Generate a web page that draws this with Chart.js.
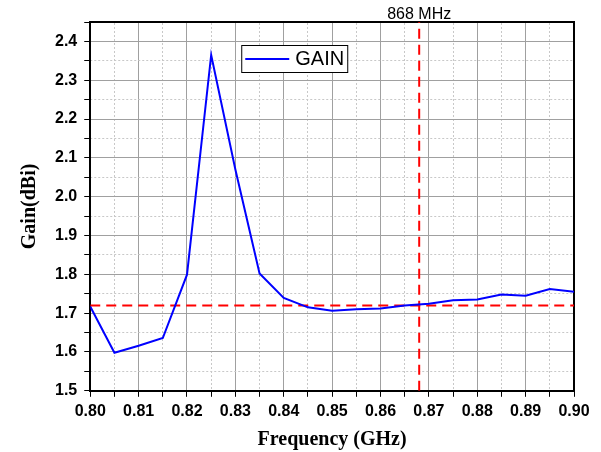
<!DOCTYPE html>
<html>
<head>
<meta charset="utf-8">
<script src="https://cdn.jsdelivr.net/npm/chart.js@4.4.0/dist/chart.umd.min.js"></script>
<style>
  html, body { margin: 0; padding: 0; background: #fff; }
  #wrap { width: 601px; height: 452px; position: relative; }
</style>
</head>
<body>
<div id="wrap"><canvas id="gainChart"></canvas></div>
<script>
// frequency (GHz) and gain (dBi)
var freq = [0.800, 0.805, 0.810, 0.815, 0.820, 0.825, 0.830, 0.835, 0.840, 0.845, 0.850,
            0.855, 0.860, 0.865, 0.870, 0.875, 0.880, 0.885, 0.890, 0.895, 0.900]
var gain = [1.717, 1.598, 1.616, 1.636, 1.799, 2.365, 2.070, 1.802, 1.739, 1.715, 1.706,
            1.710, 1.712, 1.720, 1.724, 1.733, 1.735, 1.748, 1.745, 1.762, 1.755]
var refGain = 1.72      // horizontal dashed line
var markFreq = 0.868    // vertical dashed line
var markLabel = '868 MHz'
var seriesName = 'GAIN'

var xMin = 0.80, xMax = 0.90, xStep = 0.005
var yMin = 1.5, yMax = 2.45, yStep = 0.05

function isMajor(v, mult){
  return Math.abs(v * mult - Math.round(v * mult)) < 1e-6
}

var overlay = {
  id: 'overlay',
  afterDraw: function(chart){
    var ctx = chart.ctx
    var area = chart.chartArea
    var xs = chart.scales.x
    // 868 MHz label
    ctx.save()
    ctx.font = '16px "Liberation Sans", Arial, sans-serif'
    ctx.fillStyle = '#000'
    ctx.textAlign = 'center'
    ctx.textBaseline = 'alphabetic'
    ctx.fillText(markLabel, xs.getPixelForValue(markFreq), area.top - 3)
    // legend box
    var lx = area.left + 151, ly = area.top + 23, lw = 106, lh = 27
    ctx.fillStyle = '#fff'
    ctx.fillRect(lx, ly, lw, lh)
    ctx.strokeStyle = '#000'
    ctx.lineWidth = 1
    ctx.strokeRect(lx + 0.5, ly + 0.5, lw, lh)
    ctx.strokeStyle = '#0000ff'
    ctx.lineWidth = 2
    ctx.beginPath()
    ctx.moveTo(lx + 4, ly + 14)
    ctx.lineTo(lx + 48, ly + 14)
    ctx.stroke()
    ctx.fillStyle = '#000'
    ctx.font = '20px "Liberation Sans", Arial, sans-serif'
    ctx.textAlign = 'left'
    ctx.textBaseline = 'middle'
    ctx.fillText(seriesName, lx + 54, ly + 14)
    ctx.restore()
  }
}

var ctx = document.getElementById('gainChart').getContext('2d')
var myChart = new Chart(ctx, {
  type: 'line',
  plugins: [overlay],
  data: {
    datasets: [{
      label: seriesName,
      data: freq.map(function(f, i){ return {x: f, y: gain[i]} }),
      borderColor: '#0000ff',
      borderWidth: 2,
      pointRadius: 0,
      tension: 0,
      order: 0
    }, {
      label: 'ref',
      data: [{x: xMin, y: refGain}, {x: xMax, y: refGain}],
      borderColor: '#ff0000',
      borderWidth: 2,
      borderDash: [10, 6],
      pointRadius: 0,
      order: 1
    }, {
      label: 'mark',
      data: [{x: markFreq, y: yMin}, {x: markFreq, y: yMax}],
      borderColor: '#ff0000',
      borderWidth: 2,
      borderDash: [10, 6],
      pointRadius: 0,
      order: 1
    }]
  },
  options: {
    responsive: true,
    maintainAspectRatio: false,
    animation: false,
    layout: { padding: { top: 22, right: 27, left: 18, bottom: 0 } },
    plugins: {
      legend: { display: false },
      tooltip: { enabled: false }
    },
    scales: {
      x: {
        type: 'linear',
        position: 'bottom',
        min: xMin, max: xMax,
        ticks: {
          stepSize: xStep,
          autoSkip: false,
          maxRotation: 0,
          padding: 5,
          color: '#000',
          font: { family: '"Liberation Sans", Arial, sans-serif', size: 16, weight: 'bold' },
          callback: function(v){ return isMajor(v, 100) ? v.toFixed(2) : '' }
        },
        grid: {
          color: function(c){ return c.tick && isMajor(c.tick.value, 100) ? '#a0a0a0' : 'rgba(0,0,0,0)' },
          tickColor: '#000',
          tickLength: 6,
          lineWidth: 1
        },
        border: { color: '#000', width: 2 },
        title: {
          display: true,
          text: 'Frequency (GHz)',
          color: '#000',
          padding: { top: 2, bottom: 0 },
          font: { family: '"Liberation Serif", "Times New Roman", serif', size: 20, weight: 'bold' }
        }
      },
      x2: {
        type: 'linear',
        position: 'top',
        min: xMin, max: xMax,
        ticks: { display: false, stepSize: xStep },
        grid: {
          drawTicks: false,
          color: function(c){ return c.tick && !isMajor(c.tick.value, 100) ? '#c8c8c8' : 'rgba(0,0,0,0)' },
          lineWidth: 1
        },
        border: { color: '#000', width: 2, dash: [2, 2] }
      },
      y: {
        type: 'linear',
        position: 'left',
        min: yMin, max: yMax,
        ticks: {
          stepSize: yStep,
          autoSkip: false,
          padding: 7,
          color: '#000',
          font: { family: '"Liberation Sans", Arial, sans-serif', size: 16, weight: 'bold' },
          callback: function(v){ return isMajor(v, 10) ? v.toFixed(1) : '' }
        },
        grid: {
          color: function(c){ return c.tick && isMajor(c.tick.value, 10) ? '#a0a0a0' : 'rgba(0,0,0,0)' },
          tickColor: '#000',
          tickLength: 6,
          lineWidth: 1
        },
        border: { color: '#000', width: 2 },
        title: {
          display: true,
          text: 'Gain(dBi)',
          color: '#000',
          padding: { top: 0, bottom: 6 },
          font: { family: '"Liberation Serif", "Times New Roman", serif', size: 20, weight: 'bold' }
        }
      },
      y2: {
        type: 'linear',
        position: 'right',
        min: yMin, max: yMax,
        ticks: { display: false, stepSize: yStep },
        grid: {
          drawTicks: false,
          color: function(c){ return c.tick && !isMajor(c.tick.value, 10) ? '#c8c8c8' : 'rgba(0,0,0,0)' },
          lineWidth: 1
        },
        border: { color: '#000', width: 2, dash: [2, 2] }
      }
    }
  }
})
</script>
</body>
</html>
